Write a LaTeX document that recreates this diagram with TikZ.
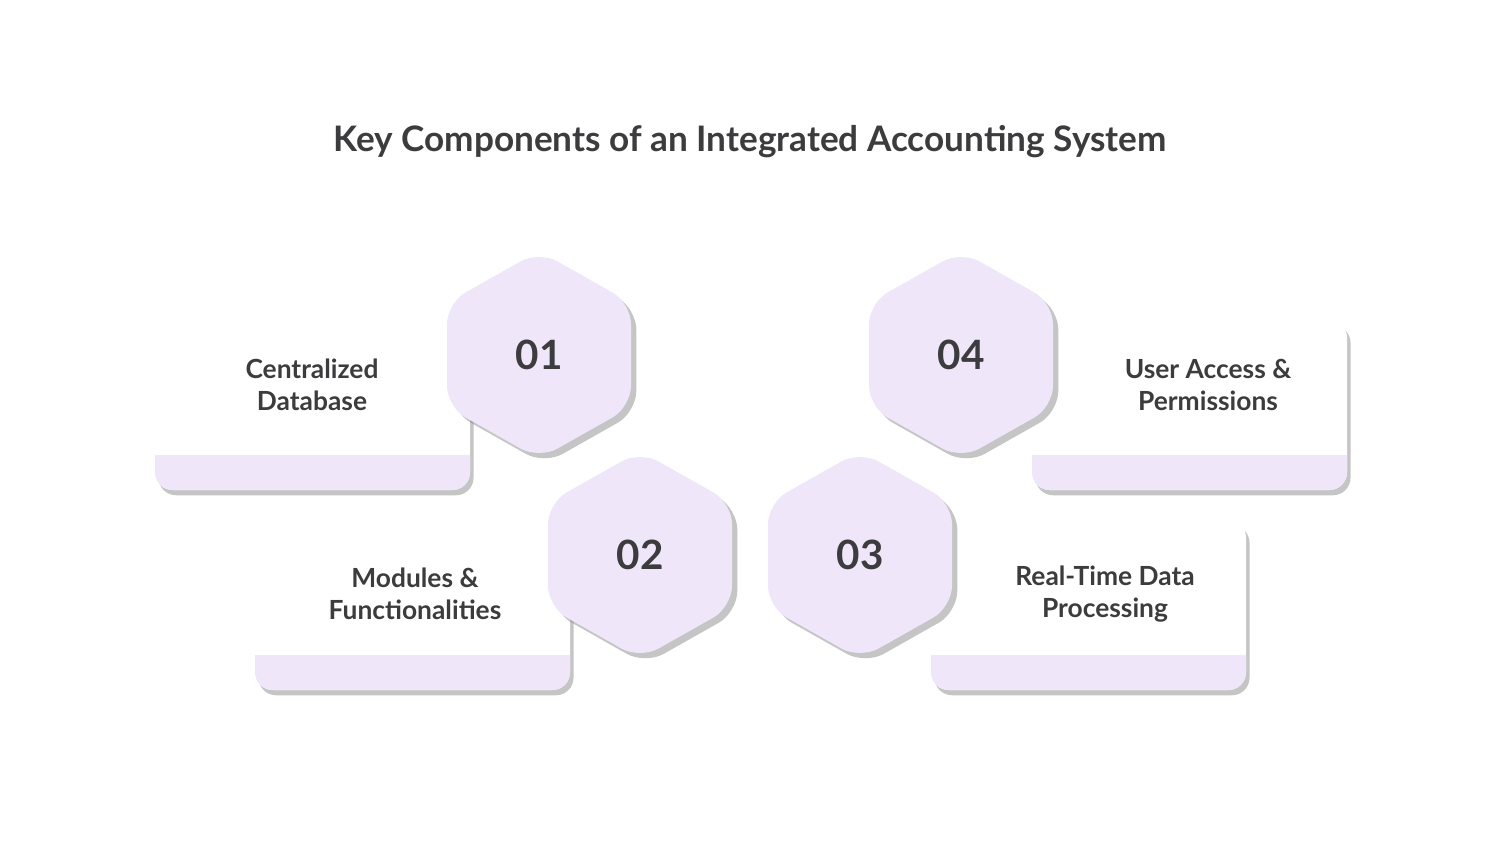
\documentclass[tikz,border=0pt]{standalone}
\usepackage{fontspec}
\setmainfont{Lato}
\usetikzlibrary{shadows}
\definecolor{lav}{HTML}{F0E6FA}
\definecolor{txt}{HTML}{3C3C3E}
\tikzset{
  card/.style={fill=white, rounded corners=10pt, drop shadow={shadow xshift=2pt, shadow yshift=-3pt, fill=black!45, opacity=0.5}},
  strip/.style={fill=lav},
  hexa/.style={fill=lav, rounded corners=12pt, drop shadow={shadow xshift=3pt, shadow yshift=-3pt, fill=black!45, opacity=0.5}},
  lbl/.style={text=txt, font=\fontsize{15}{18}\selectfont\bfseries, align=center},
  num/.style={text=txt, font=\fontsize{23}{26}\selectfont\bfseries}
}
\begin{document}
\begin{tikzpicture}[x=0.02cm,y=-0.02cm]
\useasboundingbox[fill=white] (0,0) rectangle (1500,844);
\node[text=txt, font=\fontsize{20}{24}\selectfont\bfseries] (title) at (750,142) {Key Components of an Integrated Accounting System};
% cards
\foreach \x/\y in {155/320, 255/520, 931/520, 1032/320}{
  \path[card] (\x,\y) rectangle ++(315,170);
  \path[strip] (\x,\y+135) -- ++(315,0) [rounded corners=10pt] -- ++(0,35) -- ++(-315,0) [sharp corners] -- cycle;
}
% hexagons
\foreach \n/\cx/\cy in {h1/539/355, h2/640/555, h3/860/555, h4/961/355}{
  \path[hexa] (\cx,\cy-104) -- (\cx+92,\cy-52) -- (\cx+92,\cy+52) -- (\cx,\cy+104) -- (\cx-92,\cy+52) -- (\cx-92,\cy-52) -- cycle;
}
\node[num] (n1) at (539,355) {01};
\node[num] (n2) at (640,555) {02};
\node[num] (n3) at (860,555) {03};
\node[num] (n4) at (961,355) {04};
\node[lbl] (l1) at (312,385) {Centralized\\Database};
\node[lbl] (l2) at (415,594) {Modules \&\\Functionalities};
\node[lbl] (l3) at (1105,594) {Real-Time Data\\Processing};
\node[lbl] (l4) at (1208,385) {User Access \&\\Permissions};
\end{tikzpicture}
\end{document}
